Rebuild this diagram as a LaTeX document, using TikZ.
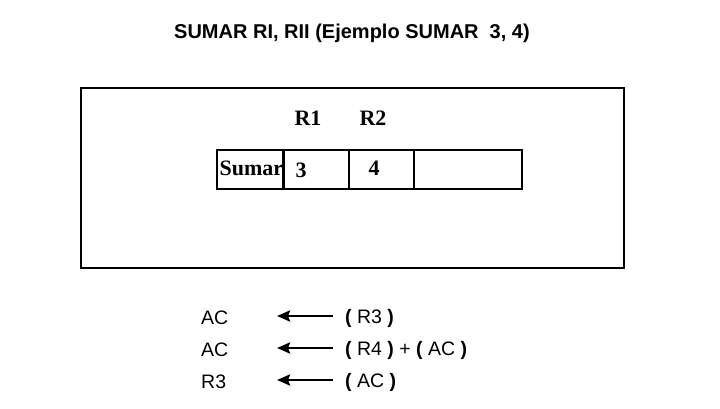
\documentclass[tikz,border=0pt]{standalone}
\usepackage{fontspec}
\setmainfont{Liberation Sans}
\newfontfamily\serifb{Liberation Serif}
\usetikzlibrary{arrows.meta}
\begin{document}
\begin{tikzpicture}[x=1pt,y=-1pt,
  titletxt/.style={font=\fontsize{20}{24}\selectfont\bfseries, inner sep=0pt},
  sertxt/.style={font=\fontsize{22}{26}\selectfont\serifb\bfseries, inner sep=0pt},
  optxt/.style={font=\fontsize{19.5}{23}\selectfont, inner sep=0pt, anchor=west},
  cellbox/.style={draw, line width=2pt, minimum height=39pt, inner sep=0pt},
  assign/.style={line width=2.6pt, -{Stealth[length=13pt,width=11pt,inset=2pt]}}
]
\useasboundingbox (0,0) rectangle (720,408);
\node[titletxt] (title) at (352,33) {SUMAR RI, RII (Ejemplo SUMAR\ \ 3, 4)};
\node[draw, line width=2.6pt, minimum width=543pt, minimum height=180pt, inner sep=0pt] (outer) at (352.5,178) {};
% table cells
\node[cellbox, minimum width=66pt] (c0) at (250,169.5) {};
\node[cellbox, minimum width=65pt] (c1) at (316,169.5) {};
\node[cellbox, minimum width=65pt] (c2) at (381,169.5) {};
\node[cellbox, minimum width=108pt] (c3) at (468,169.5) {};
\node[sertxt, anchor=west] (sumar) at (219.5,168) {Sumar};
\node[sertxt] (v3) at (301,170) {3};
\node[sertxt] (v4) at (374,168) {4};
\node[sertxt] (r1) at (308,118) {R1};
\node[sertxt] (r2) at (373,118) {R2};
% assignments
\node[optxt] (d1) at (201,318) {AC};
\node[optxt] (d2) at (201,350) {AC};
\node[optxt] (d3) at (201,382) {R3};
\coordinate (t1) at (333,316);
\coordinate (h1) at (277,316);
\coordinate (t2) at (333,348);
\coordinate (h2) at (277,348);
\coordinate (t3) at (333,380);
\coordinate (h3) at (277,380);
\draw[assign] (t1) -- (h1);
\draw[assign] (t2) -- (h2);
\draw[assign] (t3) -- (h3);
\node[optxt] (s1) at (345,318) {\textbf{(} R3 \textbf{)}};
\node[optxt] (s2) at (345,350) {\textbf{(} R4 \textbf{)} + \textbf{(} AC \textbf{)}};
\node[optxt] (s3) at (345,382) {\textbf{(} AC \textbf{)}};
\end{tikzpicture}
\end{document}
